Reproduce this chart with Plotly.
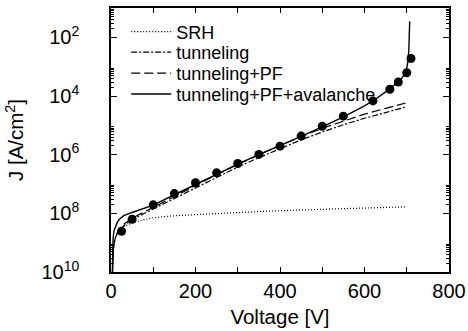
import plotly.graph_objects as go

# ---- data ----
V_srh = [2.5, 4, 5, 7, 10, 15, 20, 30, 50, 75, 100, 150, 200, 250, 300, 350, 400, 450, 500, 550, 600, 650, 700]
J_srh = [3.2e-11, 2.5e-10, 5.0e-10, 8.9e-10, 1.4e-9, 2.1e-9, 2.6e-9, 3.5e-9, 4.7e-9, 5.9e-9, 7.1e-9, 8.3e-9,
         9.1e-9, 1.0e-8, 1.07e-8, 1.15e-8, 1.23e-8, 1.32e-8, 1.38e-8, 1.45e-8, 1.51e-8, 1.58e-8, 1.66e-8]

V_tun = [2.5, 4, 5, 7, 10, 15, 20, 30, 50, 75, 100, 150, 200, 250, 300, 350, 400, 450, 500, 550, 600, 650, 700]
J_tun = [3.2e-11, 2.5e-10, 5.0e-10, 8.9e-10, 1.4e-9, 2.1e-9, 2.75e-9, 3.8e-9, 6.0e-9, 9.3e-9, 1.41e-8, 3.2e-8,
         7.6e-8, 1.74e-7, 3.8e-7, 7.9e-7, 1.58e-6, 3.2e-6, 5.9e-6, 1.05e-5, 1.74e-5, 2.8e-5, 4.3e-5]

V_pf = [2.5, 4, 5, 7, 10, 15, 20, 30, 50, 75, 100, 150, 200, 250, 300, 350, 400, 450, 500, 550, 600, 650, 700]
J_pf = [3.2e-11, 2.5e-10, 5.0e-10, 8.9e-10, 1.4e-9, 2.2e-9, 2.95e-9, 4.2e-9, 6.8e-9, 1.05e-8, 1.58e-8, 3.7e-8,
        8.9e-8, 2.1e-7, 4.7e-7, 1.0e-6, 2.04e-6, 4.1e-6, 7.9e-6, 1.41e-5, 2.4e-5, 3.8e-5, 5.9e-5]

V_av = [2.5, 4, 5, 7, 10, 15, 20, 30, 50, 75, 100, 150, 200, 250, 300, 350, 400, 450, 500, 550, 600, 625,
        650, 670, 685, 695, 700, 703, 705, 707]
J_av = [3.2e-11, 5.0e-10, 1.41e-9, 2.5e-9, 3.5e-9, 5.0e-9, 6.3e-9, 8.3e-9, 1.07e-8, 1.41e-8, 1.9e-8, 4.3e-8,
        9.8e-8, 2.2e-7, 4.8e-7, 1.0e-6, 2.0e-6, 4.2e-6, 8.9e-6, 1.95e-5, 4.6e-5, 7.6e-5, 1.38e-4, 2.3e-4,
        3.5e-4, 5.6e-4, 8.9e-4, 1.58e-3, 4.0e-3, 3.5e-2]

V_meas = [25, 50, 100, 150, 200, 250, 300, 350, 400, 450, 500, 550, 620, 660, 680, 700, 710]
J_meas = [2.45e-9, 6.3e-9, 1.95e-8, 4.7e-8, 1.1e-7, 2.4e-7, 5.0e-7, 1.02e-6, 1.95e-6, 4.3e-6, 9.3e-6,
          2.05e-5, 6.8e-5, 1.7e-4, 3.0e-4, 6.2e-4, 1.9e-3]

x_ticks = [0, 200, 400, 600, 800]
x_ticktext = ["0", "200", "400", "600", "800"]
x_minor = [100, 300, 500, 700]
y_ticks = [1e-10, 1e-8, 1e-6, 1e-4, 1e-2]
y_ticktext = ["10<sup>10</sup>", "10<sup>8</sup>", "10<sup>6</sup>", "10<sup>4</sup>", "10<sup>2</sup>"]
y_minor = [k * d for d in [1e-10, 1e-8, 1e-6, 1e-4, 1e-2] for k in range(2, 10)]

FONT = "Liberation Sans, Arial, sans-serif"
LEG_FONT = dict(family=FONT, size=18, color="black")

fig = go.Figure()
fig.add_trace(go.Scatter(x=V_srh, y=J_srh, mode="lines", name="SRH", legend="legend",
                         line=dict(color="black", width=1.2, dash="1px,2px")))
fig.add_trace(go.Scatter(x=V_tun, y=J_tun, mode="lines", name="tunneling", legend="legend2",
                         line=dict(color="black", width=1.2, dash="6px,2px,2px,2px")))
fig.add_trace(go.Scatter(x=V_pf, y=J_pf, mode="lines", name="tunneling+PF", legend="legend3",
                         line=dict(color="black", width=1.2, dash="9px,4px")))
fig.add_trace(go.Scatter(x=V_av, y=J_av, mode="lines", name="tunneling+PF+avalanche", legend="legend4",
                         line=dict(color="black", width=1.4)))
fig.add_trace(go.Scatter(x=V_meas, y=J_meas, mode="markers", name="measured", showlegend=False,
                         marker=dict(color="black", size=9, symbol="circle")))

axis_common = dict(showline=True, linecolor="black", linewidth=1.5, mirror="allticks",
                   ticks="inside", tickcolor="black", showgrid=False, zeroline=False,
                   automargin=False,
                   tickfont=dict(family=FONT, size=20, color="black"))


def leg(yc):
    return dict(x=0.045, y=yc, xanchor="left", yanchor="middle", bgcolor="rgba(0,0,0,0)",
                font=LEG_FONT, itemwidth=40)


fig.update_layout(
    width=468, height=331,
    margin=dict(l=111, r=19, t=8, b=59),
    paper_bgcolor="white", plot_bgcolor="white",
    font=dict(family=FONT, color="black"),
    showlegend=True,
    legend=leg(0.909),
    legend2=leg(0.832),
    legend3=leg(0.752),
    legend4=leg(0.673),
    xaxis=dict(range=[0, 800], tickvals=x_ticks, ticktext=x_ticktext, ticklen=5, tickwidth=1,
               minor=dict(tickvals=x_minor, ticklen=5, ticks="inside", tickcolor="black", showgrid=False),
               title=dict(text="Voltage [V]", font=dict(family=FONT, size=20.5), standoff=9),
               **axis_common),
    yaxis=dict(type="log", range=[-10, -1], tickvals=y_ticks, ticktext=y_ticktext, ticklen=6, tickwidth=1,
               minor=dict(tickvals=y_minor, ticklen=3, ticks="inside", tickcolor="black", showgrid=False),
               ticklabelstandoff=26,
               title=dict(text="J [A/cm<sup>2</sup>]", font=dict(family=FONT, size=20.5), standoff=12),
               **axis_common),
)

fig.write_html("out.html")
